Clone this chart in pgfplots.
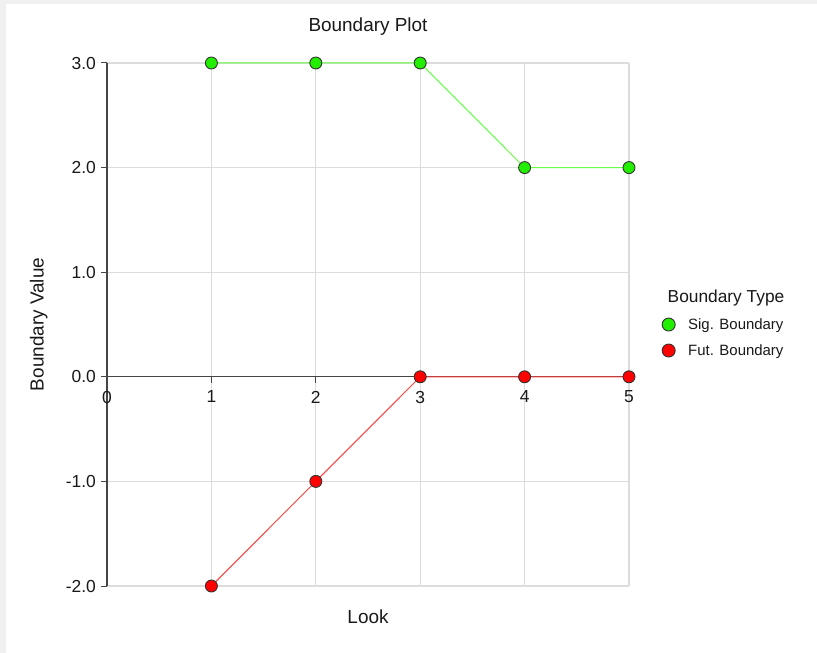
\documentclass[border=0pt]{standalone}
\usepackage{fontspec}
\setmainfont{Liberation Sans}
\usepackage{pgfplots}
\pgfplotsset{compat=1.18}

\definecolor{panelgray}{HTML}{F0F0F0}
\definecolor{gridgray}{HTML}{DCDCDC}
\definecolor{axisgray}{HTML}{454545}
\definecolor{siggreen}{HTML}{22EE00}
\definecolor{sigline}{HTML}{66FF44}
\definecolor{futred}{HTML}{FF0000}
\definecolor{futline}{HTML}{FF4040}

\begin{document}
\begin{tikzpicture}
  % page frame: grey margin, white panel (1px = 1bp)
  \useasboundingbox (0,0) rectangle (817bp,653bp);
  \fill[panelgray] (0,0) rectangle (817bp,653bp);
  \fill[white] (6bp,0) rectangle (817bp,649bp);

  \begin{axis}[
      at={(107bp,67bp)}, anchor=south west,
      scale only axis,
      width=522bp, height=523bp,
      xmin=0, xmax=5, ymin=-2, ymax=3,
      axis x line=middle, axis y line=left,
      axis line style={draw=axisgray, line width=1.2bp, -},
      tick align=outside,
      major tick length=6bp,
      tick style={draw=axisgray, line width=1bp},
      xtick={0,1,2,3,4,5},
      xticklabels={0,1,2,3,4,5},
      ytick={-2,-1,0,1,2,3},
      yticklabels={-2.0,-1.0,0.0,1.0,2.0,3.0},
      hide obscured x ticks=false,
      grid=major,
      major grid style={draw=gridgray, line width=1.2bp},
      ticklabel style={font=\fontsize{17.5}{20}\selectfont, text=black!90},
      yticklabel style={inner sep=0pt, xshift=-5bp},
      xticklabel style={inner sep=0pt, yshift=-8bp},
      title={Boundary Plot},
      title style={at={(axis description cs:0.5,1.0574)}, anchor=center,
                   font=\fontsize{19}{22}\selectfont, text=black!90},
      xlabel={Look},
      xlabel style={at={(axis description cs:0.5,-0.0593)}, anchor=center,
                    font=\fontsize{19}{22}\selectfont, text=black!90},
      ylabel={Boundary Value},
      ylabel style={at={(axis description cs:-0.131,0.5)}, anchor=center, rotate=0,
                    font=\fontsize{19}{22}\selectfont, text=black!90},
      clip=false,
      legend style={at={(1.0632,0.4751)}, anchor=west, draw=none, fill=none,
                    inner sep=0pt, row sep=13bp, column sep=13bp,
                    font=\fontsize{15}{18}\selectfont,
                    nodes={inner sep=0pt, text=black!90}},
      legend cell align=left,
      legend image code/.code={\draw[#1] plot coordinates {(0bp,0bp)};},
    ]

    \addplot[sigline, line width=1bp, mark=*, mark size=6bp,
             mark options={draw=black!80, fill=siggreen, line width=0.9bp},
             forget plot] coordinates {
      (1, 3)
      (2, 3)
      (3, 3)
      (4, 2)
      (5, 2)
    };

    \addplot[futline, line width=1bp, mark=*, mark size=6bp,
             mark options={draw=black!80, fill=futred, line width=0.9bp},
             forget plot] coordinates {
      (1, -2)
      (2, -1)
      (3, 0)
      (4, 0)
      (5, 0)
    };

    \addlegendimage{only marks, mark=*, mark size=6.5bp,
                    mark options={draw=black!80, fill=siggreen, line width=0.9bp}}
    \addlegendentry{Sig. Boundary}
    \addlegendimage{only marks, mark=*, mark size=6.5bp,
                    mark options={draw=black!80, fill=futred, line width=0.9bp}}
    \addlegendentry{Fut. Boundary}
  \end{axis}

  \node[font=\fontsize{17.4}{20}\selectfont, text=black!90] at (726bp,355bp) {Boundary Type};
\end{tikzpicture}
\end{document}
